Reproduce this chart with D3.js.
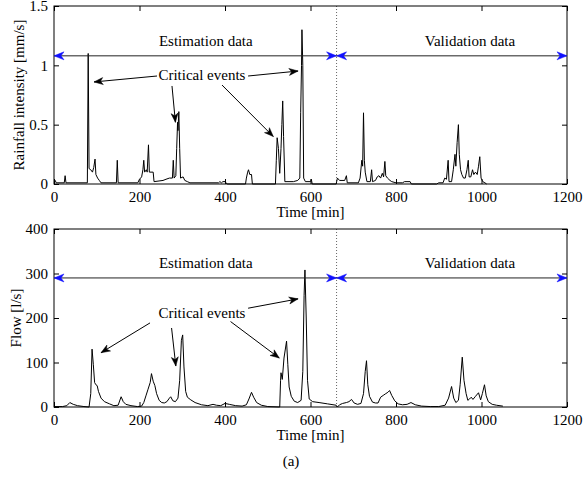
<!DOCTYPE html>
<html><head><meta charset="utf-8">
<script src="https://cdn.jsdelivr.net/npm/d3@7"></script>
<style>
body{margin:0;background:#fff}
svg text{font-family:"Liberation Serif","Times New Roman",Times,"DejaVu Serif",serif;fill:#000}
</style></head><body><div id="vis"></div>
<script>
const ctx = {
    w: 584,
    h: 489,
    left: 54,
    right: 567,
    fontSize: 15,
    font: '"Liberation Serif", "Times New Roman", Times, "DejaVu Serif", serif',
    tick: 5
};

// rainfall intensity [mm/s] against time [min]
const rainTime = [0,3,5,24,26,28,78,80,82,86,90,93,96,98,102,106,110,146,148,150,196,200,205,208,210,212,216,218,221,223,232,234,255,262,270,277,279,281,285,287,289,290,292,294,296,302,306,312,318,385,388,392,395,400,405,448,450,453,455,458,462,464,518,520,522,525,528,531,533,535,537,540,560,570,575,577,579,580,582,584,588,600,602,604,660,663,668,680,684,686,712,716,720,722,724,726,728,732,740,743,745,752,756,760,764,768,771,774,776,780,786,790,800,815,820,833,836,895,900,910,914,918,922,924,930,934,938,940,943,946,948,951,954,958,962,966,969,971,975,979,982,986,990,993,996,999,1003,1008,1012];
const rainValue = [0.03,0.03,0.01,0.01,0.07,0.01,0.01,1.1,0.13,0.12,0.1,0.14,0.21,0.08,0.05,0.03,0.01,0.01,0.2,0.01,0.01,0.04,0.06,0.12,0.2,0.1,0.12,0.1,0.33,0.1,0.1,0.02,0.03,0.04,0.05,0.05,0.2,0.05,0.07,0.3,0.52,0.45,0.61,0.3,0.05,0.06,0.03,0.02,0.01,0.01,0.02,0.01,0.02,0.02,0,0,0.05,0.1,0.12,0.08,0.08,0,0,0.2,0.39,0.3,0.09,0.3,0.5,0.7,0.4,0.02,0.02,0.03,0.05,0.6,1.0,1.3,1.0,0.05,0.02,0.02,0.04,0,0,0.05,0.03,0.03,0.07,0.01,0.01,0.05,0.2,0.15,0.6,0.2,0.1,0.02,0.02,0.12,0.02,0.03,0.06,0.07,0.05,0.09,0.06,0.19,0.07,0.05,0.03,0.02,0.01,0.01,0.02,0.02,0,0,0.01,0.01,0.05,0.04,0.2,0.02,0.02,0.12,0.25,0.15,0.35,0.5,0.25,0.12,0.08,0.05,0.05,0.12,0.2,0.06,0.06,0.12,0.08,0.1,0.08,0.15,0.23,0.05,0.02,0.01,0];

// flow [l/s] against time [min]
const flowTime = [0,20,30,37,45,55,70,82,86,89,92,95,98,101,104,110,118,130,140,150,157,162,168,180,195,205,210,215,220,225,228,232,236,240,246,252,258,264,270,273,278,284,290,294,298,301,304,308,312,320,330,345,360,372,380,390,400,410,425,440,450,456,462,467,474,485,500,528,530,531,534,538,544,547,550,555,562,570,578,582,585,587,590,593,597,605,620,640,660,663,668,675,684,690,696,702,710,718,724,728,731,734,738,745,752,758,764,770,776,781,785,790,797,805,815,826,835,845,860,880,900,915,923,930,935,940,946,950,955,959,964,968,972,976,980,986,993,998,1002,1007,1011,1016,1025,1035,1050];
const flowValue = [1,1,3,10,6,3,1,0,30,130,95,55,50,48,35,20,12,7,3,4,23,12,6,3,1,2,10,25,40,55,75,58,48,30,15,10,9,12,20,23,14,12,20,60,150,162,90,35,22,16,10,5,3,6,4,3,8,6,3,2,5,18,33,22,10,4,1,0,60,77,62,110,148,95,45,24,13,10,15,80,250,308,200,60,18,12,10,7,4,0,5,8,10,12,17,9,6,8,30,80,104,50,24,11,9,9,22,26,30,33,37,26,14,7,5,6,10,5,2,1,1,4,20,46,20,10,15,50,112,60,30,15,18,22,17,24,32,16,30,50,25,12,6,4,2];

const xTicks = [0,200,400,600,800,1000,1200];
const rainTicks = [0,0.5,1,1.5];
const flowTicks = [0,100,200,300,400];

const splitTime = 661;          // end of estimation data
const rainArrowLevel = 1.08;
const flowArrowLevel = 290;

// "Critical events" pointers: [t0, v0, t1, v1]
const rainPointers = [[241,0.91,93.6,0.86],[276,0.826,284,0.52],[393,0.834,513,0.40],[454,0.91,571,0.952]];
const flowPointers = [[224.6,189,110,122],[275,177.5,285,92],[413,192,527,110],[454,222,571,243]];

const svg = d3.select("#vis").append("svg")
    .attr("width", ctx.w)
    .attr("height", ctx.h);

const xScale = d3.scaleLinear().domain([0, 1200]).range([ctx.left, ctx.right]);

function arrowHead(g, x0, y0, x1, y1, len, half, notch, color) {
    let a = Math.atan2(y1 - y0, x1 - x0);
    let c = Math.cos(a), s = Math.sin(a);
    let bx = x1 - len * c, by = y1 - len * s;
    let p = [
        [x1, y1],
        [bx - half * s, by + half * c],
        [x1 - (len - notch) * c, y1 - (len - notch) * s],
        [bx + half * s, by - half * c]
    ];
    g.append("path")
        .attr("d", "M" + p.map(q => q.join(",")).join("L") + "Z")
        .attr("fill", color)
        .attr("stroke", color)
        .attr("stroke-width", 0.5);
}

function addText(g, x, y, str) {
    return g.append("text")
        .attr("x", x).attr("y", y)
        .attr("text-anchor", "middle")
        .attr("font-family", ctx.font)
        .style("font-size", ctx.fontSize + "px")
        .text(str);
}

function drawPanel(cfg) {
    let yScale = d3.scaleLinear().domain(cfg.domain).range([cfg.bottom, cfg.top]);
    let g = svg.append("g");

    // dotted split line
    g.append("line")
        .attr("x1", xScale(splitTime)).attr("x2", xScale(splitTime))
        .attr("y1", cfg.top).attr("y2", cfg.bottom)
        .attr("stroke", "#666")
        .attr("stroke-width", 1)
        .attr("stroke-dasharray", "1,2");

    // data
    let pts = cfg.time.map((t, i) => [t, cfg.value[i]]);
    g.append("path")
        .datum(pts)
        .attr("fill", "none")
        .attr("stroke", "#000")
        .attr("stroke-width", 1)
        .attr("stroke-linejoin", "round")
        .attr("d", d3.line().x(d => xScale(d[0])).y(d => yScale(d[1])));

    // axes: box with inward ticks
    let fmt = d => String(d);
    g.append("g")
        .attr("transform", `translate(0,${cfg.bottom})`)
        .call(d3.axisBottom(xScale).tickValues(xTicks).tickFormat(fmt).tickSizeInner(-ctx.tick).tickSizeOuter(0).tickPadding(7))
        .call(a => a.select(".domain").remove());
    g.append("g")
        .attr("transform", `translate(0,${cfg.top})`)
        .call(d3.axisTop(xScale).tickValues(xTicks).tickSizeInner(-ctx.tick).tickSizeOuter(0).tickFormat(""))
        .call(a => a.select(".domain").remove());
    g.append("g")
        .attr("transform", `translate(${ctx.left},0)`)
        .call(d3.axisLeft(yScale).tickValues(cfg.ticks).tickFormat(fmt).tickSizeInner(-ctx.tick).tickSizeOuter(0).tickPadding(6))
        .call(a => a.select(".domain").remove());
    g.append("g")
        .attr("transform", `translate(${ctx.right},0)`)
        .call(d3.axisRight(yScale).tickValues(cfg.ticks).tickSizeInner(-ctx.tick).tickSizeOuter(0).tickFormat(""))
        .call(a => a.select(".domain").remove());
    g.selectAll("g").attr("font-family", ctx.font).attr("font-size", ctx.fontSize);
    g.selectAll(".tick text")
        .style("font-size", ctx.fontSize + "px")
        .attr("fill", "#000");
    g.selectAll(".tick line").attr("stroke", "#000");
    g.append("rect")
        .attr("x", ctx.left).attr("y", cfg.top)
        .attr("width", ctx.right - ctx.left).attr("height", cfg.bottom - cfg.top)
        .attr("fill", "none").attr("stroke", "#000").attr("stroke-width", 1);

    // axis labels
    addText(g, (ctx.left + ctx.right) / 2, cfg.bottom + 33, "Time [min]");
    addText(g, 0, 0, cfg.ylabel)
        .attr("transform", `translate(${cfg.ylabelX},${(cfg.top + cfg.bottom) / 2}) rotate(-90)`);

    // estimation / validation double arrows
    let ya = yScale(cfg.arrowLevel);
    [[0, splitTime], [splitTime, 1200]].forEach(([a, b]) => {
        g.append("line")
            .attr("x1", xScale(a)).attr("x2", xScale(b))
            .attr("y1", ya).attr("y2", ya)
            .attr("stroke", "#222").attr("stroke-width", 1);
        arrowHead(g, xScale(b), ya, xScale(a), ya, 10, 4, 3, "#1010ff");
        arrowHead(g, xScale(a), ya, xScale(b), ya, 10, 4, 3, "#1010ff");
    });
    addText(g, xScale(355), yScale(cfg.labelLevel), "Estimation data");
    addText(g, xScale(973), yScale(cfg.labelLevel), "Validation data");

    // critical events
    addText(g, xScale(346), yScale(cfg.criticalLevel), "Critical events");
    cfg.pointers.forEach(p => {
        let x0 = xScale(p[0]), y0 = yScale(p[1]), x1 = xScale(p[2]), y1 = yScale(p[3]);
        g.append("line")
            .attr("x1", x0).attr("y1", y0).attr("x2", x1).attr("y2", y1)
            .attr("stroke", "#000").attr("stroke-width", 1);
        arrowHead(g, x0, y0, x1, y1, 9, 3.5, 2.5, "#000");
    });
}

drawPanel({
    top: 6, bottom: 184, domain: [0, 1.5],
    time: rainTime, value: rainValue, ticks: rainTicks,
    ylabel: "Rainfall intensity [mm/s]", ylabelX: 24,
    arrowLevel: rainArrowLevel, labelLevel: 1.163, criticalLevel: 0.876,
    pointers: rainPointers
});

drawPanel({
    top: 229, bottom: 407, domain: [0, 400],
    time: flowTime, value: flowValue, ticks: flowTicks,
    ylabel: "Flow [l/s]", ylabelX: 21,
    arrowLevel: flowArrowLevel, labelLevel: 312, criticalLevel: 200,
    pointers: flowPointers
});

addText(svg, 291, 466, "(a)");
</script></body></html>
